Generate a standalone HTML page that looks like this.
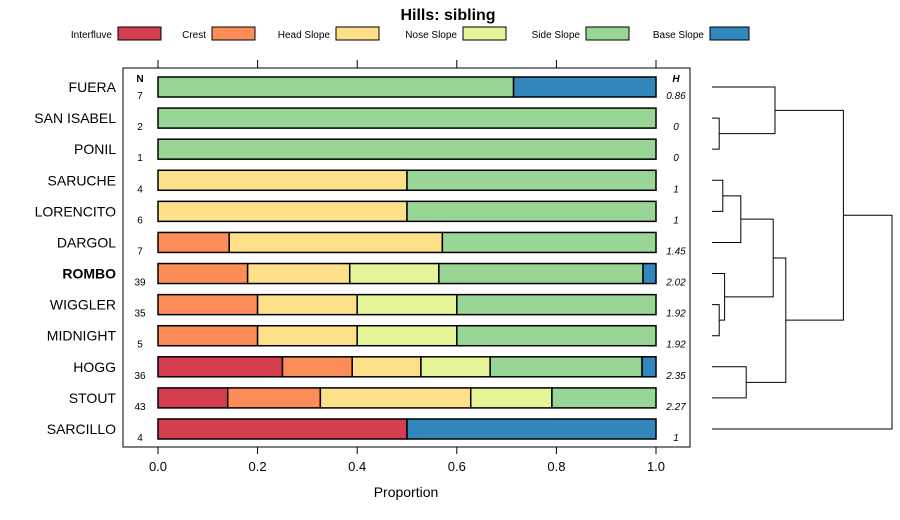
<!DOCTYPE html>
<html><head><meta charset="utf-8"><style>
body{margin:0;background:#fff}
svg{display:block;font-family:"Liberation Sans",sans-serif}
</style></head><body>
<svg id="c" width="900" height="520">
<text x="448" y="20" text-anchor="middle" font-size="16" font-weight="bold">Hills: sibling</text>
<g id="legend"></g>
<rect x="123" y="68" width="567" height="379" fill="none" stroke="#000"/>
<g id="axis"></g>
<g id="bars"></g>
<g id="dend" stroke="#000" fill="none" stroke-width="1"></g>
<text x="406" y="497" text-anchor="middle" font-size="14">Proportion</text>
</svg>
<script>
const classes=["Interfluve","Crest","Head Slope","Nose Slope","Side Slope","Base Slope"];
const colors=["#D53E4F","#FC8D59","#FEE08B","#E6F598","#99D594","#3288BD"];
const names=["FUERA","SAN ISABEL","PONIL","SARUCHE","LORENCITO","DARGOL","ROMBO","WIGGLER","MIDNIGHT","HOGG","STOUT","SARCILLO"];
const nVals=[7,2,1,4,6,7,39,35,5,36,43,4];
const hVals=["0.86","0","0","1","1","1.45","2.02","1.92","1.92","2.35","2.27","1"];
const props=[
[0,0,0,0,0.714,0.286],
[0,0,0,0,1,0],
[0,0,0,0,1,0],
[0,0,0.5,0,0.5,0],
[0,0,0.5,0,0.5,0],
[0,0.143,0.428,0,0.429,0],
[0,0.18,0.205,0.179,0.41,0.026],
[0,0.2,0.2,0.2,0.4,0],
[0,0.2,0.2,0.2,0.4,0],
[0.25,0.14,0.138,0.139,0.305,0.028],
[0.14,0.186,0.302,0.163,0.209,0],
[0.5,0,0,0,0,0.5]];
const ticks=[0,0.2,0.4,0.6,0.8,1.0];
const tree=[ // [a,b,height]; numbers = leaf index, "n#" = earlier merge
 [1,2,0.04],
 [0,'n0',0.35],
 [3,4,0.06],
 [5,'n2',0.16],
 [7,8,0.04],
 [6,'n4',0.07],
 ['n3','n5',0.34],
 [9,10,0.19],
 ['n6','n7',0.41],
 ['n1','n8',0.73],
 ['n9',11,1.0]
];
const NS="http://www.w3.org/2000/svg";
const X=v=>158+v*498, Y=i=>87+i*31.09;
function mk(t,a,p){const e=document.createElementNS(NS,t);for(const k in a)e.setAttribute(k,a[k]);p.appendChild(e);return e;}
const lg=document.getElementById('legend');
const lgBox=[118,212,336,463,586,710];
classes.forEach((c,i)=>{
 const t=mk('text',{x:lgBox[i]-6,y:38,'text-anchor':'end','font-size':10},lg);t.textContent=c;
 
 
 const r=mk('rect',{x:lgBox[i],y:27,width:i==5?39:43,height:13,fill:colors[i],stroke:'#000'},lg);
 
 
});
const ax=document.getElementById('axis');
ticks.forEach(v=>{
 mk('line',{x1:X(v),x2:X(v),y1:60,y2:68,stroke:'#000'},ax);
 mk('line',{x1:X(v),x2:X(v),y1:447,y2:454,stroke:'#000'},ax);
 const t=mk('text',{x:X(v),y:471,'text-anchor':'middle','font-size':13},ax);t.textContent=v.toFixed(1);
 
 
});
const b=document.getElementById('bars');
let t=mk('text',{x:140,y:82,'text-anchor':'middle','font-size':10,'font-weight':'bold'},b);t.textContent='N';


t=mk('text',{x:676,y:82,'text-anchor':'middle','font-size':10,'font-weight':'bold','font-style':'italic'},b);t.textContent='H';


names.forEach((n,i)=>{
 const y=Y(i);
 const l=mk('text',{x:116,y:y+5,'text-anchor':'end','font-size':14,'font-weight':n=='ROMBO'?'bold':'normal'},b);l.textContent=n;
 
 
 const nt=mk('text',{x:140,y:y+12,'text-anchor':'middle','font-size':10},b);nt.textContent=nVals[i];
 
 
 const ht=mk('text',{x:676,y:y+12,'text-anchor':'middle','font-size':10,'font-style':'italic'},b);ht.textContent=hVals[i];
 
 
 let acc=0;
 props[i].forEach((p,k)=>{
  if(p<=0)return;
  const r=mk('rect',{x:X(acc),y:y-10,width:X(acc+p)-X(acc),height:20,fill:colors[k],stroke:'#000','stroke-width':1.5},b);
  
  
  acc+=p;
 });
});
const dg=document.getElementById('dend');
const DX=h=>712+h*180;
const pos={};
function get(c){return typeof c==='number'?{y:Y(c),h:0}:pos[c];}
tree.forEach((m,i)=>{
 const a=get(m[0]),c=get(m[1]),x=DX(m[2]);
 const p=mk('path',{d:`M${DX(a.h)},${a.y}H${x}V${c.y}H${DX(c.h)}`},dg);
 
 
 pos['n'+i]={y:(a.y+c.y)/2,h:m[2]};
});
</script>
</body></html>
